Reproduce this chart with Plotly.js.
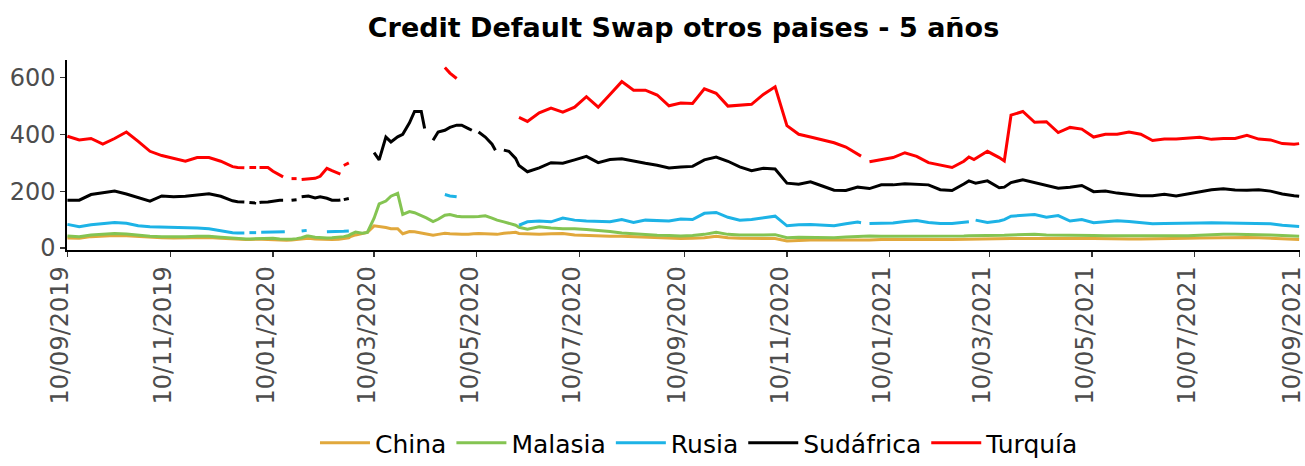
<!DOCTYPE html>
<html>
<head>
<meta charset="utf-8">
<script src="https://cdn.plot.ly/plotly-3.0.1.min.js"></script>
<style>html,body{margin:0;padding:0;background:#fff;}#chart{width:1305px;height:466px;}</style>
</head>
<body>
<div id="chart"></div>
<script>
const dates = [
'2019-09-10','2019-09-17','2019-09-24','2019-10-01','2019-10-08','2019-10-15','2019-10-22','2019-10-29','2019-11-05','2019-11-12',
'2019-11-19','2019-11-26','2019-12-03','2019-12-10','2019-12-17','2019-12-20','2019-12-24','2019-12-25','2019-12-27','2019-12-31',
'2020-01-01','2020-01-02','2020-01-03','2020-01-07','2020-01-10','2020-01-14','2020-01-16','2020-01-17','2020-01-18','2020-01-21',
'2020-01-24','2020-01-25','2020-01-27','2020-01-30','2020-01-31','2020-02-04','2020-02-07','2020-02-11','2020-02-14','2020-02-18',
'2020-02-19','2020-02-20','2020-02-21','2020-02-24','2020-02-25','2020-02-28','2020-03-03','2020-03-06','2020-03-10','2020-03-13',
'2020-03-17','2020-03-20','2020-03-24','2020-03-27','2020-03-31','2020-04-03','2020-04-07','2020-04-09','2020-04-10','2020-04-14',
'2020-04-17','2020-04-21','2020-04-24','2020-04-28','2020-05-01','2020-05-05','2020-05-07','2020-05-08','2020-05-11','2020-05-15',
'2020-05-19','2020-05-21','2020-05-22','2020-05-26','2020-05-29','2020-06-02','2020-06-04','2020-06-09','2020-06-16','2020-06-23',
'2020-06-30','2020-07-07','2020-07-14','2020-07-21','2020-07-28','2020-08-04','2020-08-11','2020-08-18','2020-08-25','2020-09-01',
'2020-09-08','2020-09-15','2020-09-22','2020-09-29','2020-10-06','2020-10-13','2020-10-20','2020-10-27','2020-11-03','2020-11-10',
'2020-11-17','2020-11-24','2020-12-01','2020-12-08','2020-12-15','2020-12-22','2020-12-24','2020-12-25','2020-12-29','2021-01-05',
'2021-01-12','2021-01-19','2021-01-26','2021-02-02','2021-02-09','2021-02-16','2021-02-23','2021-02-26','2021-03-01','2021-03-02',
'2021-03-09','2021-03-16','2021-03-19','2021-03-23','2021-03-30','2021-04-06','2021-04-13','2021-04-20','2021-04-27','2021-05-04',
'2021-05-11','2021-05-18','2021-05-25','2021-06-01','2021-06-08','2021-06-15','2021-06-22','2021-06-29','2021-07-06','2021-07-13',
'2021-07-20','2021-07-27','2021-08-03','2021-08-10','2021-08-17','2021-08-24','2021-08-31','2021-09-07','2021-09-10'
];

const china = [
35,34,40,43,44,43,40,37,36,35,
36,37,37,34,31,30,30,30,30,31,
31,31,31,30,29,27,27,27,27,28,
30,31,32,34,34,32,31,30,30,31,
31,32,33,36,40,46,50,55,78,76,
72,68,68,50,58,57,53,51,50,45,
48,52,50,48,48,48,50,50,51,50,
48,48,48,52,54,55,51,50,48,50,
51,46,44,42,41,41,39,37,35,34,
33,34,36,41,36,34,33,33,33,25,
27,28,28,28,28,27,27,27,28,30,
31,30,30,29,30,30,31,31,31,31,
32,32,32,33,33,34,33,33,32,33,
33,32,32,32,32,32,32,33,34,35,
36,37,37,37,36,35,33,31,30
];

const malasia = [
42,40,46,49,51,49,45,41,40,39,
40,41,41,38,34,33,32,32,32,33,
33,33,33,33,34,32,31,31,31,31,
33,34,36,42,42,38,36,35,36,38,
38,39,40,44,48,56,52,55,105,155,
165,182,192,118,128,124,114,109,106,93,
101,115,118,112,110,110,109,110,111,113,
105,100,98,92,88,80,73,66,75,70,
68,68,65,62,58,53,50,47,45,44,
42,44,48,55,48,46,45,46,47,36,
38,38,36,36,39,41,41,41,42,41,
41,41,42,40,41,42,42,43,43,43,
44,44,45,46,47,48,46,46,45,45,
44,43,43,42,42,42,42,42,43,45,
47,48,48,48,47,46,44,42,41
];

const rusia = [
83,75,82,85,90,87,78,75,74,74,
72,70,68,60,54,53,53,null,54,54,
null,null,55,56,56,57,57,57,null,null,
null,null,60,62,null,null,null,57,57,58,
58,58,59,60,null,null,null,null,null,null,
null,null,null,null,null,null,null,null,null,null,
null,188,183,180,null,null,null,null,null,null,
null,null,null,null,null,null,80,92,95,92,
105,98,95,94,92,100,90,98,97,95,
102,100,122,125,108,98,100,106,112,78,
82,83,80,78,85,91,89,null,86,86,
88,93,97,90,86,86,90,92,null,98,
90,95,100,112,115,118,108,114,95,100,
89,92,96,93,88,85,86,86,88,88,
89,88,89,88,87,85,80,77,76
];

const sudafrica = [
168,168,188,194,200,190,178,165,183,180,
182,186,191,182,166,163,162,null,160,158,
null,160,161,162,165,168,168,null,null,168,
170,null,180,184,183,176,180,175,168,168,
169,null,170,174,null,null,null,null,335,310,
390,373,391,400,440,480,480,420,null,379,
408,414,424,432,432,420,414,null,408,390,
365,344,null,344,340,315,290,268,282,300,
298,310,322,300,311,314,305,298,291,281,
285,287,310,320,305,285,272,280,278,228,
224,233,218,203,202,214,213,212,209,222,
222,226,224,222,205,202,225,236,230,228,
236,212,214,230,240,230,218,210,214,220,
198,200,193,188,184,184,189,183,190,197,
205,208,204,203,205,200,190,184,182
];

const turquia = [
393,380,385,365,385,408,375,340,325,315,
305,318,318,305,286,283,282,null,283,283,
null,283,283,283,270,255,250,null,null,244,
244,null,241,243,243,245,252,280,272,262,
260,null,290,299,null,null,null,null,null,null,
null,null,null,null,null,null,null,null,null,null,
null,635,615,596,null,null,null,null,null,null,
null,null,null,null,null,null,459,445,475,492,
478,495,532,495,540,585,555,555,538,500,
510,508,560,544,499,502,505,540,567,430,
400,390,379,370,355,330,323,null,303,311,
318,335,322,300,292,283,305,320,311,315,
340,318,306,467,480,442,444,406,424,418,
390,400,400,408,400,378,383,383,386,389,
382,385,385,396,383,380,367,365,367
];

const seriesNames = ['China','Malasia','Rusia','Sudáfrica','Turquía'];
const seriesColors = ['#E1A83C','#84C452','#1DB3E6','#000000','#FF0000'];
const seriesValues = [china, malasia, rusia, sudafrica, turquia];

const xTickVals = ['2019-09-10','2019-11-10','2020-01-10','2020-03-10','2020-05-10','2020-07-10','2020-09-10','2020-11-10','2021-01-10','2021-03-10','2021-05-10','2021-07-10','2021-09-10'];
const xTickText = ['10/09/2019','10/11/2019','10/01/2020','10/03/2020','10/05/2020','10/07/2020','10/09/2020','10/11/2020','10/01/2021','10/03/2021','10/05/2021','10/07/2021','10/09/2021'];
const yTickVals = [0,200,400,600];

const FONT = 'DejaVu Sans, Liberation Sans, Arial, sans-serif';

const traces = seriesNames.map((n,i)=>({
  type:'scatter', mode:'lines', name:n, x:dates, y:seriesValues[i],
  line:{color:seriesColors[i], width:3}, connectgaps:false, hoverinfo:'skip'
}));

const layout = {
  width:1305, height:466,
  margin:{l:67, r:5, t:60, b:216},
  paper_bgcolor:'#fff', plot_bgcolor:'#fff',
  font:{family:FONT, color:'#000'},
  title:{text:'<b>Credit Default Swap otros paises - 5 años</b>', font:{size:27, color:'#000', family:FONT},
         x:0.5, xref:'paper', xanchor:'center', y:1-28/466, yref:'container', yanchor:'middle'},
  xaxis:{type:'date', range:['2019-09-09 18:00','2021-09-10 12:00'], tickmode:'array', tickvals:xTickVals, ticktext:xTickText,
         tickangle:-90, ticklabelshift:-7, ticklabeloverflow:'allow', showgrid:false, zeroline:false, showline:true, linecolor:'#000', linewidth:1.6,
         ticks:'outside', ticklen:5, tickwidth:1.2, tickcolor:'#333',
         tickfont:{size:24, color:'#4D4D4D', family:FONT}},
  yaxis:{range:[-7,661], tickmode:'array', tickvals:yTickVals, showgrid:false, zeroline:false,
         showline:true, linecolor:'#000', linewidth:1.6, ticks:'outside', ticklen:5, tickwidth:1.2, tickcolor:'#333',
         tickfont:{size:24, color:'#4D4D4D', family:FONT}},
  showlegend:true,
  legend:{orientation:'h', x:0.536, xref:'container', xanchor:'center', y:0, yref:'container', yanchor:'bottom',
          font:{size:25, color:'#000', family:FONT}, itemwidth:50, tracegroupgap:0},
  hovermode:false
};

Plotly.newPlot('chart', traces, layout, {displayModeBar:false, staticPlot:true});
</script>
</body>
</html>
